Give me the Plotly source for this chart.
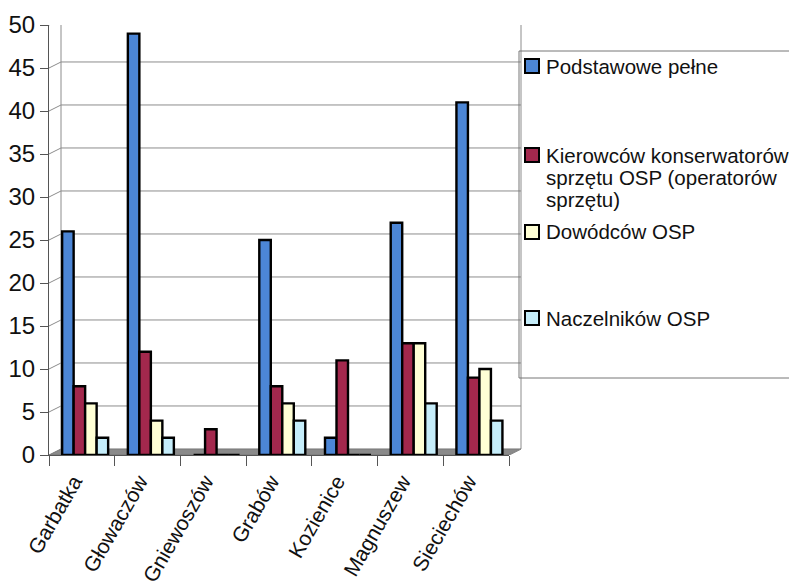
import plotly.graph_objects as go

# ---- data ----
categories = ["Garbatka", "Głowaczów", "Gniewoszów", "Grabów", "Kozienice", "Magnuszew", "Sieciechów"]
series_names = ["Podstawowe pełne",
                "Kierowców konserwatorów<br>sprzętu OSP (operatorów<br>sprzętu)",
                "Dowódców OSP",
                "Naczelników OSP"]
podstawowe = [26, 49, 0, 25, 2, 27, 41]
kierowcow = [8, 12, 3, 8, 11, 13, 9]
dowodcow = [6, 4, 0, 6, 0, 13, 10]
naczelnikow = [2, 2, 0, 4, 0, 6, 4]
y_ticks = [0, 5, 10, 15, 20, 25, 30, 35, 40, 45, 50]

values = [podstawowe, kierowcow, dowodcow, naczelnikow]
colors = ["#4C86D6", "#A3284D", "#FFFFD5", "#C5EDFA"]

OFF = 8                       # page body margin offset
WIN_W, WIN_H = 797, 581
W, H = WIN_W - OFF, WIN_H - OFF
L, R_px, T, B_px = 49, 509, 25, 455   # plot area in window pixels


def px2x(px):
    return (px - L) / (R_px - L)


def px2y(py):
    return (B_px - py) / (B_px - T)


fig = go.Figure()
bar_w = 0.175
for i, (name, vals, col) in enumerate(zip(series_names, values, colors)):
    fig.add_trace(go.Bar(
        x=categories, y=vals, name=name.replace("<br>", " "),
        marker=dict(color=col, line=dict(color="black", width=2.4)),
        width=bar_w, offset=-0.30 + i * bar_w,
        showlegend=False,
    ))

shapes = []
dxp = px2x(61) - px2x(L)      # depth offset in x (domain fraction)
dyv = 0.7                      # depth offset in y (data units)
wall_col = "#8c8c8c"
# floor
shapes.append(dict(type="path", xref="x domain", yref="y",
                   path=f"M 0,0 L 1,0 L {1 + dxp},{dyv} L {dxp},{dyv} Z",
                   fillcolor="#8a8a8a", line=dict(color="#777", width=1), layer="below"))
# back wall gridlines + left wall slants
for v in y_ticks[1:]:
    shapes.append(dict(type="line", xref="x domain", yref="y",
                       x0=dxp, x1=1 + dxp, y0=v + dyv, y1=v + dyv,
                       line=dict(color=wall_col, width=1), layer="below"))
    shapes.append(dict(type="line", xref="x domain", yref="y",
                       x0=0, x1=dxp, y0=v, y1=v + dyv,
                       line=dict(color=wall_col, width=1), layer="below"))
# wall edges
shapes.append(dict(type="line", xref="x domain", yref="y", x0=dxp, x1=dxp,
                   y0=dyv, y1=y_ticks[-1] + dyv, line=dict(color=wall_col, width=1), layer="below"))
shapes.append(dict(type="line", xref="x domain", yref="y", x0=1 + dxp, x1=1 + dxp,
                   y0=dyv, y1=y_ticks[-1] + dyv, line=dict(color=wall_col, width=1), layer="below"))
shapes.append(dict(type="line", xref="x domain", yref="y", x0=1, x1=1 + dxp,
                   y0=0, y1=dyv, line=dict(color=wall_col, width=1), layer="below"))

# ---- manual legend ----
shapes.append(dict(type="rect", xref="paper", yref="paper",
                   x0=px2x(519), x1=px2x(805), y0=px2y(378), y1=px2y(51),
                   line=dict(color="#777", width=1), fillcolor="rgba(0,0,0,0)"))
item_centers = [66, 155, 232, 318]
line_step = 22
annotations = []
for name, col, cy in zip(series_names, colors, item_centers):
    shapes.append(dict(type="rect", xref="paper", yref="paper",
                       x0=px2x(525), x1=px2x(539), y0=px2y(cy + 7), y1=px2y(cy - 7),
                       line=dict(color="black", width=2), fillcolor=col))
    for k, line_txt in enumerate(name.split("<br>")):
        annotations.append(dict(xref="paper", yref="paper", x=px2x(544), y=px2y(cy + k * line_step),
                                text=line_txt, showarrow=False, xanchor="left", yanchor="middle",
                                font=dict(size=20.5, color="#111")))

fig.update_layout(
    width=W, height=H,
    margin=dict(l=L - OFF, r=W - (R_px - OFF), t=T - OFF, b=H - (B_px - OFF), pad=0, autoexpand=False),
    paper_bgcolor="white", plot_bgcolor="rgba(0,0,0,0)",
    font=dict(family="Liberation Sans, Arial, sans-serif", color="#111"),
    barmode="overlay",
    shapes=shapes, annotations=annotations,
    showlegend=False,
)
fig.update_xaxes(
    type="category", tickangle=-60, tickfont=dict(size=21), automargin=False,
    showline=True, linecolor="#555", linewidth=1,
    ticks="outside", tickson="boundaries", ticklen=10, tickcolor="#555",
    ticklabelstandoff=5, ticklabelshift=-8,
    showgrid=False, range=[-0.5, len(categories) - 0.5],
)
fig.update_yaxes(
    range=[0, 50], tickvals=y_ticks, tickfont=dict(size=24), automargin=False,
    showline=True, linecolor="#555", linewidth=1,
    ticks="outside", ticklen=8, tickcolor="#555",
    showgrid=False, zeroline=False,
)

fig.write_html("out.html")
